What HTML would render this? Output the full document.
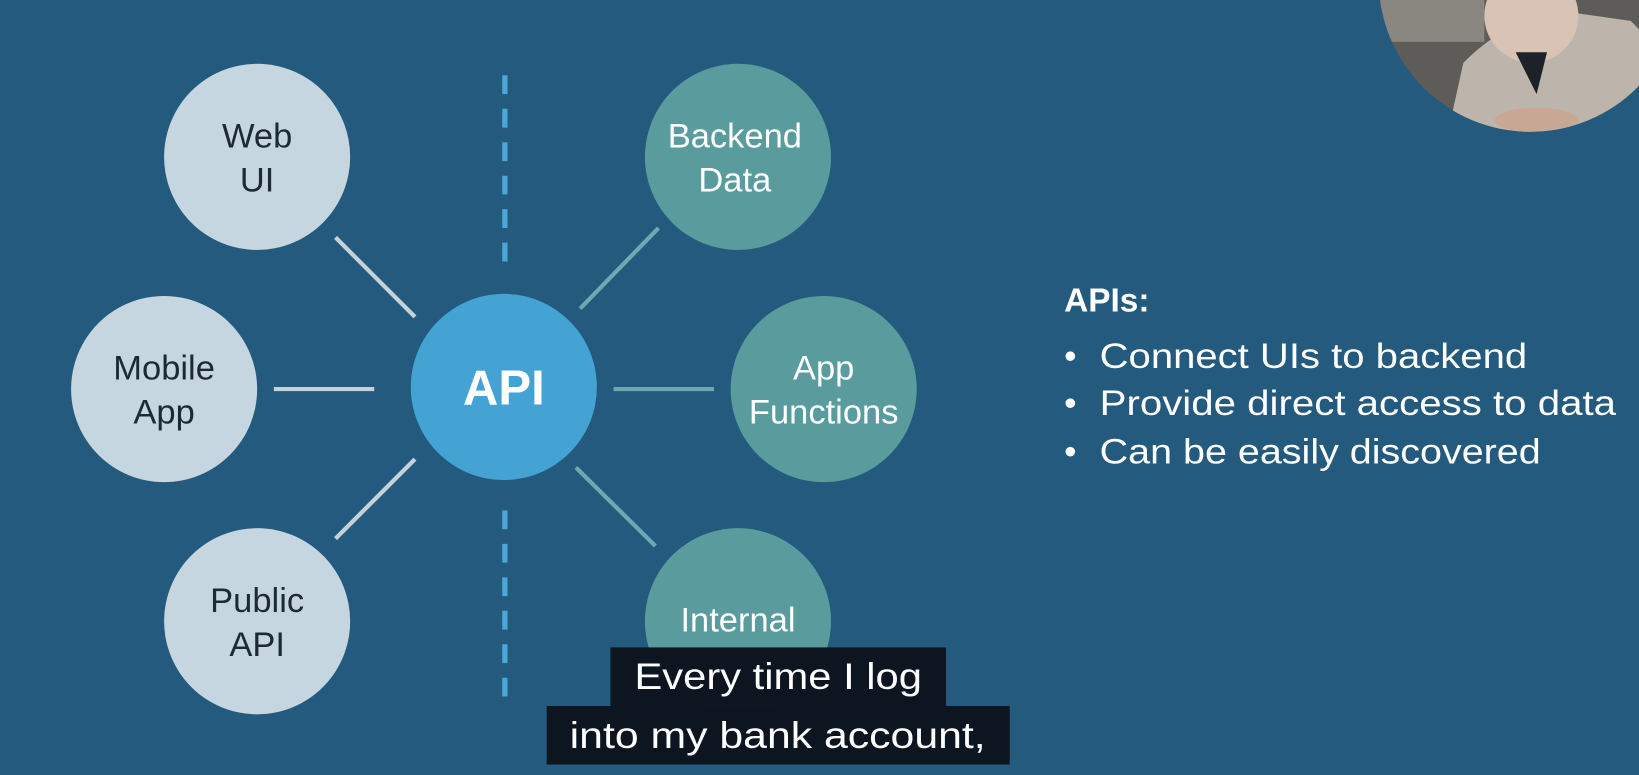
<!DOCTYPE html>
<html><head><style>
html,body{margin:0;padding:0;background:#235a7e;overflow:hidden}
svg{display:block}
text{font-family:"Liberation Sans",sans-serif}
</style></head><body>
<svg width="1639" height="775" viewBox="0 0 1568 741" preserveAspectRatio="none">
<rect width="1568" height="741" fill="#235a7e"/>
<g stroke="#c3d2dc" stroke-width="4">
<line x1="321" y1="227" x2="397" y2="303"/>
<line x1="262" y1="372" x2="358" y2="372"/>
<line x1="321" y1="515" x2="397" y2="439"/>
</g>
<g stroke="#6aaab0" stroke-width="4">
<line x1="555" y1="295" x2="630" y2="218"/>
<line x1="587" y1="372" x2="683" y2="372"/>
<line x1="551" y1="447" x2="627" y2="522"/>
</g>
<g stroke="#4aa8d8" stroke-width="5" stroke-dasharray="18 14">
<line x1="483" y1="72" x2="483" y2="258"/>
<line x1="483" y1="488" x2="483" y2="672"/>
</g>
<g fill="#c5d6e0">
<circle cx="246" cy="150" r="89"/>
<circle cx="157" cy="372" r="89"/>
<circle cx="246" cy="594" r="89"/>
</g>
<g fill="#5a9c9e">
<circle cx="706" cy="150" r="89"/>
<circle cx="788" cy="372" r="89"/>
<circle cx="706" cy="594" r="89"/>
</g>
<circle cx="482" cy="370" r="89" fill="#45a3d3"/>
<g font-size="33" fill="#1d2a33" text-anchor="middle">
<text x="246" y="141">Web</text><text x="246" y="183">UI</text>
<text x="157" y="363">Mobile</text><text x="157" y="405">App</text>
<text x="246" y="585">Public</text><text x="246" y="627">API</text>
</g>
<g font-size="33" fill="#fff" text-anchor="middle">
<text x="703" y="141">Backend</text><text x="703" y="183">Data</text>
<text x="788" y="363">App</text><text x="788" y="405">Functions</text>
<text x="706" y="604">Internal</text>
<text x="482" y="387" font-size="47" font-weight="bold">API</text>
</g>
<text x="1018" y="298" font-size="32" font-weight="bold" fill="#fff">APIs:</text>
<g font-size="34" fill="#fff">
<text x="1018" y="352">•</text><text x="1052" y="352" textLength="409" lengthAdjust="spacingAndGlyphs">Connect UIs to backend</text>
<text x="1018" y="397">•</text><text x="1052" y="397" textLength="494" lengthAdjust="spacingAndGlyphs">Provide direct access to data</text>
<text x="1018" y="443">•</text><text x="1052" y="443" textLength="422" lengthAdjust="spacingAndGlyphs">Can be easily discovered</text>
</g>
<defs><clipPath id="cam"><circle cx="1464" cy="-19" r="145"/></clipPath></defs>
<g clip-path="url(#cam)">
<rect x="1300" y="-200" width="300" height="400" fill="#5e5c58"/>
<rect x="1300" y="0" width="120" height="40" fill="#8a8780"/>
<path d="M1400 60 Q1440 20 1490 10 L1560 20 L1600 60 L1600 150 L1380 150 Z" fill="#bdb5ab"/>
<ellipse cx="1465" cy="15" rx="45" ry="45" fill="#d8c3b4"/>
<path d="M1450 50 L1480 50 L1470 90 Z" fill="#1e2228"/>
<ellipse cx="1470" cy="115" rx="40" ry="12" fill="#c9a795"/>
</g>
<rect x="584" y="619" width="321" height="56" fill="#0d1620"/>
<rect x="523" y="675" width="443" height="56" fill="#0d1620"/>
<g font-size="35" fill="#fff">
<text x="607" y="659" textLength="275" lengthAdjust="spacingAndGlyphs">Every time I log</text>
<text x="545" y="715" textLength="398" lengthAdjust="spacingAndGlyphs">into my bank account,</text>
</g>
</svg>
</body></html>
